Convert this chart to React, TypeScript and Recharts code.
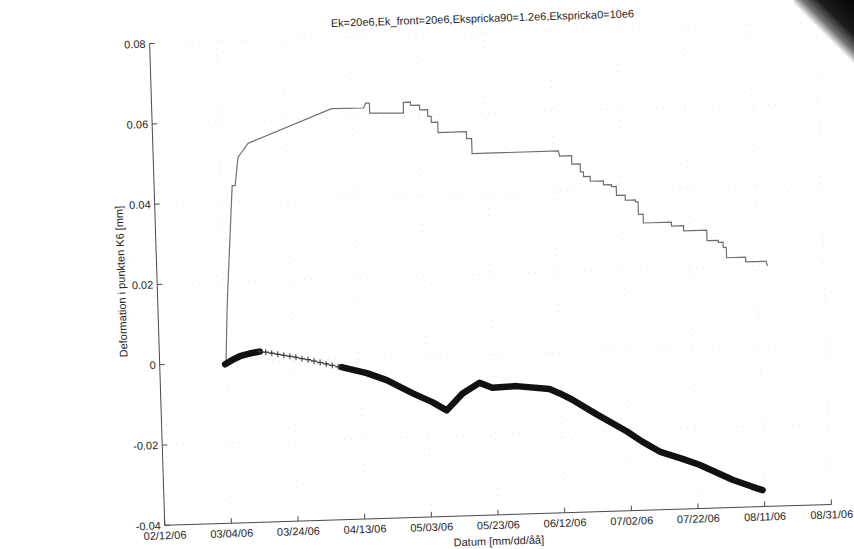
import React from "react";
import { CartesianGrid, Line, LineChart, XAxis, YAxis } from "recharts";

// x = days after 02/12/06
const xTicks = [0, 20, 40, 60, 80, 100, 120, 140, 160, 180, 200];
const xTickLabels = [
  "02/12/06", "03/04/06", "03/24/06", "04/13/06", "05/03/06", "05/23/06",
  "06/12/06", "07/02/06", "07/22/06", "08/11/06", "08/31/06",
];
const yTicks = [-0.04, -0.02, 0, 0.02, 0.04, 0.06, 0.08];

const title = "Ek=20e6,Ek_front=20e6,Ekspricka90=1.2e6,Ekspricka0=10e6";
const xLabel = "Datum [mm/dd/åå]";
const yLabel = "Deformation i punkten K6 [mm]";

// upper (grey, stepped) curve
const upperDays = [
  19.9, 20.7, 21.1, 23.4, 24.3, 25.4, 26.3, 27.3, 28.5, 53.9, 63.5, 64.2, 65.3, 65.3,
  75.4, 75.5, 77.6, 77.6, 80.3, 80.3, 82.7, 82.7, 83.7, 83.7, 85.6, 85.6, 94.1, 94.1,
  95.6, 95.6, 121.5, 121.8, 125.4, 125.4, 127.9, 127.9, 128.8, 128.8, 130.8, 130.8,
  134.7, 134.7, 137.1, 137.1, 138.5, 138.5, 141.1, 141.1, 144.1, 144.1, 144.9, 144.9,
  146.3, 146.3, 154.7, 154.7, 158.3, 158.3, 165.2, 165.2, 168.6, 168.6, 170.0, 170.0,
  170.9, 170.9, 176.6, 176.6, 182.7, 183.1,
];
const upperValues = [
  0.0, 0.013, 0.018, 0.044, 0.044, 0.051, 0.052, 0.053, 0.0544, 0.0624, 0.0623, 0.0635, 0.0635, 0.061,
  0.0607, 0.0634, 0.0634, 0.0626, 0.0626, 0.0614, 0.0614, 0.0597, 0.0597, 0.0582, 0.0582, 0.0556, 0.0556, 0.0539,
  0.0539, 0.0501, 0.0501, 0.0488, 0.0488, 0.0467, 0.0467, 0.0447, 0.0447, 0.0435, 0.0435, 0.0423,
  0.0423, 0.0413, 0.0413, 0.0408, 0.0408, 0.0386, 0.0386, 0.0373, 0.0373, 0.0368, 0.0368, 0.0337,
  0.0337, 0.0315, 0.0315, 0.0305, 0.0305, 0.0292, 0.0292, 0.0266, 0.0266, 0.0261, 0.0261, 0.0248,
  0.0248, 0.0222, 0.0222, 0.021, 0.021, 0.0199,
];

// lower (black '+') curve: dense start, sparse markers, dense rest
const lowerStartDays = [19.6, 22.0, 24.1, 27.0, 30.1];
const lowerStartValues = [-0.0004, 0.0007, 0.0015, 0.0021, 0.0025];

const lowerSparseDays = [30.1, 31.9, 33.7, 35.5, 37.3, 39.1, 40.9, 42.7, 44.5, 46.3, 48.1, 49.9, 51.7, 53.5];
const lowerSparseValues = [
  0.0025, 0.0023, 0.002, 0.0017, 0.0014, 0.0011, 0.0008, 0.0004, 0.0001, -0.0003, -0.0007, -0.0011, -0.0015, -0.0019,
];

const lowerMainDays = [
  54.5, 62.0, 67.9, 75.6, 81.5, 85.6, 90.5, 95.7, 99.5, 106.7, 116.6, 119.5, 123.1,
  130.4, 139.3, 143.9, 149.0, 155.8, 160.8, 170.6, 176.5, 179.5,
];
const lowerMainValues = [
  -0.002, -0.0037, -0.0056, -0.0091, -0.0115, -0.0136, -0.0095, -0.007, -0.0083, -0.0081, -0.0091, -0.0102, -0.0118,
  -0.0157, -0.0202, -0.0229, -0.0255, -0.0275, -0.0291, -0.0331, -0.035, -0.0359,
];

const zip = (days: number[], values: number[]) => days.map((day, i) => ({ day, value: values[i] }));

const upperData = zip(upperDays, upperValues);
const lowerStart = zip(lowerStartDays, lowerStartValues);
const lowerSparse = zip(lowerSparseDays, lowerSparseValues);
const lowerMain = zip(lowerMainDays, lowerMainValues);

const FONT = '"Liberation Sans", Arial, Helvetica, sans-serif';
const AXIS = "#4a4a4a";
const TEXT = "#262626";
const TICK = 5;

const BottomTick = (props: any) => {
  const { x, y, payload } = props;
  const label = xTickLabels[xTicks.indexOf(payload.value)];
  return (
    <g>
      <line x1={x} y1={y} x2={x} y2={y - TICK} stroke={AXIS} />
      <text x={x} y={y + 14} textAnchor="middle" fontSize={11} fontFamily={FONT} fill={TEXT}>
        {label}
      </text>
    </g>
  );
};

const LeftTick = (props: any) => {
  const { x, y, payload } = props;
  return (
    <g>
      <line x1={x} y1={y} x2={x + TICK} y2={y} stroke={AXIS} />
      <text x={x - 4} y={y + 4} textAnchor="end" fontSize={11} fontFamily={FONT} fill={TEXT}>
        {String(payload.value)}
      </text>
    </g>
  );
};

const TopTick = (props: any) => {
  const { x, y } = props;
  return <line x1={x} y1={y} x2={x} y2={y + TICK} stroke={AXIS} />;
};

const RightTick = (props: any) => {
  const { x, y } = props;
  return <line x1={x} y1={y} x2={x - TICK} y2={y} stroke={AXIS} />;
};

const PlusDot = (props: any) => {
  const { cx, cy } = props;
  if (cx == null || cy == null) return <g />;
  return <path d={`M${cx - 3},${cy}h6M${cx},${cy - 3}v6`} stroke="#333" strokeWidth={1} fill="none" />;
};

export default function App() {
  return (
    <div style={{ position: "fixed", left: 0, top: 0, width: 854, height: 549, background: "#fff", overflow: "hidden" }}>
      <div
        style={{
          position: "absolute",
          left: 0,
          top: 0,
          width: 854,
          height: 549,
          transform: "rotate(-1.8deg)",
          transformOrigin: "427px 274.5px",
          fontFamily: FONT,
          color: TEXT,
        }}
      >
        <div style={{ position: "absolute", left: 157, width: 667, top: 14, textAlign: "center", fontSize: 11, lineHeight: "13px" }}>
          {title}
        </div>
        <div
          style={{
            position: "absolute",
            left: 121 - 100,
            top: 272 - 7,
            width: 200,
            height: 14,
            lineHeight: "14px",
            textAlign: "center",
            fontSize: 11,
            transform: "rotate(-90deg)",
          }}
        >
          {yLabel}
        </div>
        <div style={{ position: "absolute", left: 157, width: 667, top: 537, textAlign: "center", fontSize: 11, lineHeight: "13px" }}>
          {xLabel}
        </div>
        <LineChart width={854} height={549} margin={{ top: 35, right: 30, bottom: 0, left: 0 }}>
          <CartesianGrid stroke="#e4e4e4" strokeDasharray="1 6" />
          <XAxis
            type="number"
            dataKey="day"
            domain={[0, 200]}
            ticks={xTicks}
            interval={0}
            height={32}
            tickSize={0}
            tickMargin={0}
            tick={<BottomTick />}
            axisLine={{ stroke: AXIS }}
            allowDataOverflow
          />
          <XAxis
            xAxisId="top"
            orientation="top"
            type="number"
            domain={[0, 200]}
            ticks={xTicks}
            interval={0}
            height={0}
            tickSize={0}
            tickMargin={0}
            tick={<TopTick />}
            axisLine={{ stroke: AXIS }}
            allowDataOverflow
          />
          <YAxis
            type="number"
            domain={[-0.04, 0.08]}
            ticks={yTicks}
            interval={0}
            width={157}
            tickSize={0}
            tickMargin={0}
            tick={<LeftTick />}
            axisLine={{ stroke: AXIS }}
            allowDataOverflow
          />
          <YAxis
            yAxisId="right"
            orientation="right"
            type="number"
            domain={[-0.04, 0.08]}
            ticks={yTicks}
            interval={0}
            width={0}
            tickSize={0}
            tickMargin={0}
            tick={<RightTick />}
            axisLine={{ stroke: AXIS }}
            allowDataOverflow
          />
          <Line
            data={upperData}
            dataKey="value"
            type="linear"
            stroke="#707070"
            strokeWidth={1.2}
            dot={false}
            isAnimationActive={false}
          />
          <Line
            data={lowerSparse}
            dataKey="value"
            type="linear"
            stroke="#666"
            strokeWidth={1}
            dot={<PlusDot />}
            isAnimationActive={false}
          />
          <Line
            data={lowerStart}
            dataKey="value"
            type="linear"
            stroke="#111"
            strokeWidth={6.5}
            strokeLinecap="round"
            strokeLinejoin="round"
            dot={false}
            isAnimationActive={false}
          />
          <Line
            data={lowerMain}
            dataKey="value"
            type="linear"
            stroke="#111"
            strokeWidth={6.5}
            strokeLinecap="round"
            strokeLinejoin="round"
            dot={false}
            isAnimationActive={false}
          />
        </LineChart>
      </div>
      <div
        style={{
          position: "absolute",
          right: 0,
          top: 0,
          width: 60,
          height: 64,
          background: "linear-gradient(225deg, #050505 0%, #1a1a1a 28%, #777 42%, rgba(255,255,255,0) 52%)",
        }}
      />
    </div>
  );
}
